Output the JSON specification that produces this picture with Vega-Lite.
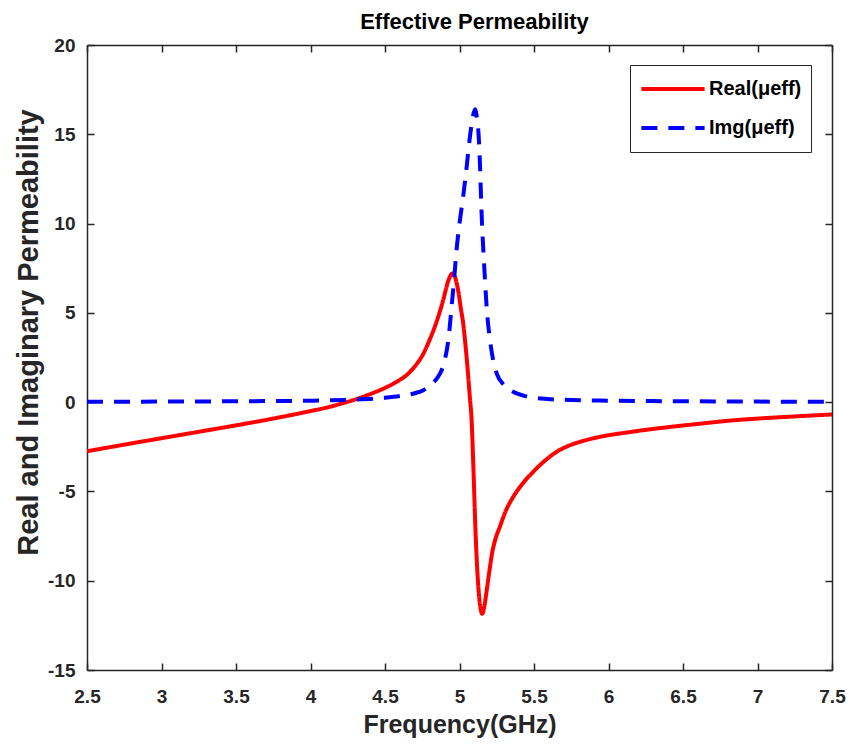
{
  "$schema": "https://vega.github.io/schema/vega-lite/v6.json",
  "autosize": {"type": "none"},
  "width": 745,
  "height": 625,
  "padding": {"left": 87, "top": 45, "right": 20, "bottom": 81},
  "background": "white",
  "title": {"text": "Effective Permeability", "fontSize": 22, "font": "Liberation Sans", "fontWeight": "bold", "color": "#000000", "anchor": "middle", "offset": 2, "dx": 15},
  "config": {
    "view": {"stroke": null},
    "axis": {
      "grid": false,
      "domainColor": "#262626",
      "domainWidth": 1.5,
      "tickColor": "#262626",
      "tickWidth": 1.5,
      "tickSize": -7,
      "labelFont": "Liberation Sans",
      "labelFontWeight": "bold",
      "labelFontSize": 19,
      "labelColor": "#262626",
      "titleFont": "Liberation Sans",
      "titleFontWeight": "bold",
      "titleColor": "#262626"
    }
  },
  "data": {"values": [
    {"f": 2.5, "v": -2.75, "s": "Real(μeff)"},
    {"f": 2.75, "v": -2.38, "s": "Real(μeff)"},
    {"f": 3.0, "v": -2.02, "s": "Real(μeff)"},
    {"f": 3.25, "v": -1.66, "s": "Real(μeff)"},
    {"f": 3.5, "v": -1.3, "s": "Real(μeff)"},
    {"f": 3.75, "v": -0.92, "s": "Real(μeff)"},
    {"f": 4.0, "v": -0.5, "s": "Real(μeff)"},
    {"f": 4.1, "v": -0.32, "s": "Real(μeff)"},
    {"f": 4.2, "v": -0.1, "s": "Real(μeff)"},
    {"f": 4.3, "v": 0.15, "s": "Real(μeff)"},
    {"f": 4.4, "v": 0.45, "s": "Real(μeff)"},
    {"f": 4.5, "v": 0.8, "s": "Real(μeff)"},
    {"f": 4.6, "v": 1.25, "s": "Real(μeff)"},
    {"f": 4.65, "v": 1.55, "s": "Real(μeff)"},
    {"f": 4.7, "v": 2.0, "s": "Real(μeff)"},
    {"f": 4.75, "v": 2.6, "s": "Real(μeff)"},
    {"f": 4.8, "v": 3.5, "s": "Real(μeff)"},
    {"f": 4.85, "v": 4.6, "s": "Real(μeff)"},
    {"f": 4.89, "v": 5.7, "s": "Real(μeff)"},
    {"f": 4.925, "v": 6.8, "s": "Real(μeff)"},
    {"f": 4.952, "v": 7.2, "s": "Real(μeff)"},
    {"f": 4.97, "v": 7.0, "s": "Real(μeff)"},
    {"f": 4.99, "v": 6.3, "s": "Real(μeff)"},
    {"f": 5.01, "v": 5.2, "s": "Real(μeff)"},
    {"f": 5.025, "v": 4.4, "s": "Real(μeff)"},
    {"f": 5.04, "v": 3.2, "s": "Real(μeff)"},
    {"f": 5.059, "v": 1.4, "s": "Real(μeff)"},
    {"f": 5.07, "v": 0.2, "s": "Real(μeff)"},
    {"f": 5.08, "v": -0.8, "s": "Real(μeff)"},
    {"f": 5.093, "v": -3.6, "s": "Real(μeff)"},
    {"f": 5.108, "v": -7.35, "s": "Real(μeff)"},
    {"f": 5.126, "v": -10.3, "s": "Real(μeff)"},
    {"f": 5.14, "v": -11.5, "s": "Real(μeff)"},
    {"f": 5.153, "v": -11.85, "s": "Real(μeff)"},
    {"f": 5.165, "v": -11.5, "s": "Real(μeff)"},
    {"f": 5.18, "v": -10.7, "s": "Real(μeff)"},
    {"f": 5.19, "v": -10.1, "s": "Real(μeff)"},
    {"f": 5.205, "v": -9.2, "s": "Real(μeff)"},
    {"f": 5.22, "v": -8.4, "s": "Real(μeff)"},
    {"f": 5.24, "v": -7.7, "s": "Real(μeff)"},
    {"f": 5.272, "v": -6.95, "s": "Real(μeff)"},
    {"f": 5.31, "v": -6.1, "s": "Real(μeff)"},
    {"f": 5.361, "v": -5.3, "s": "Real(μeff)"},
    {"f": 5.42, "v": -4.6, "s": "Real(μeff)"},
    {"f": 5.495, "v": -3.9, "s": "Real(μeff)"},
    {"f": 5.57, "v": -3.3, "s": "Real(μeff)"},
    {"f": 5.652, "v": -2.78, "s": "Real(μeff)"},
    {"f": 5.73, "v": -2.45, "s": "Real(μeff)"},
    {"f": 5.81, "v": -2.22, "s": "Real(μeff)"},
    {"f": 5.95, "v": -1.93, "s": "Real(μeff)"},
    {"f": 6.14, "v": -1.68, "s": "Real(μeff)"},
    {"f": 6.4, "v": -1.4, "s": "Real(μeff)"},
    {"f": 6.6, "v": -1.22, "s": "Real(μeff)"},
    {"f": 6.82, "v": -1.03, "s": "Real(μeff)"},
    {"f": 7.0, "v": -0.92, "s": "Real(μeff)"},
    {"f": 7.25, "v": -0.8, "s": "Real(μeff)"},
    {"f": 7.5, "v": -0.69, "s": "Real(μeff)"},
    {"f": 2.5, "v": 0.02, "s": "Img(μeff)"},
    {"f": 3.0, "v": 0.03, "s": "Img(μeff)"},
    {"f": 3.5, "v": 0.05, "s": "Img(μeff)"},
    {"f": 4.0, "v": 0.08, "s": "Img(μeff)"},
    {"f": 4.25, "v": 0.13, "s": "Img(μeff)"},
    {"f": 4.5, "v": 0.24, "s": "Img(μeff)"},
    {"f": 4.6, "v": 0.34, "s": "Img(μeff)"},
    {"f": 4.7, "v": 0.5, "s": "Img(μeff)"},
    {"f": 4.757, "v": 0.67, "s": "Img(μeff)"},
    {"f": 4.8, "v": 0.92, "s": "Img(μeff)"},
    {"f": 4.85, "v": 1.35, "s": "Img(μeff)"},
    {"f": 4.88, "v": 1.79, "s": "Img(μeff)"},
    {"f": 4.905, "v": 2.5, "s": "Img(μeff)"},
    {"f": 4.925, "v": 3.47, "s": "Img(μeff)"},
    {"f": 4.947, "v": 5.34, "s": "Img(μeff)"},
    {"f": 4.965, "v": 7.0, "s": "Img(μeff)"},
    {"f": 4.98, "v": 8.5, "s": "Img(μeff)"},
    {"f": 5.0, "v": 10.0, "s": "Img(μeff)"},
    {"f": 5.026, "v": 11.6, "s": "Img(μeff)"},
    {"f": 5.048, "v": 13.17, "s": "Img(μeff)"},
    {"f": 5.07, "v": 14.86, "s": "Img(μeff)"},
    {"f": 5.09, "v": 16.0, "s": "Img(μeff)"},
    {"f": 5.104, "v": 16.4, "s": "Img(μeff)"},
    {"f": 5.117, "v": 15.9, "s": "Img(μeff)"},
    {"f": 5.129, "v": 14.86, "s": "Img(μeff)"},
    {"f": 5.138, "v": 13.17, "s": "Img(μeff)"},
    {"f": 5.144, "v": 11.6, "s": "Img(μeff)"},
    {"f": 5.151, "v": 10.0, "s": "Img(μeff)"},
    {"f": 5.16, "v": 8.5, "s": "Img(μeff)"},
    {"f": 5.17, "v": 7.0, "s": "Img(μeff)"},
    {"f": 5.182, "v": 5.34, "s": "Img(μeff)"},
    {"f": 5.205, "v": 3.47, "s": "Img(μeff)"},
    {"f": 5.225, "v": 2.4, "s": "Img(μeff)"},
    {"f": 5.25, "v": 1.6, "s": "Img(μeff)"},
    {"f": 5.3, "v": 0.95, "s": "Img(μeff)"},
    {"f": 5.36, "v": 0.58, "s": "Img(μeff)"},
    {"f": 5.45, "v": 0.32, "s": "Img(μeff)"},
    {"f": 5.55, "v": 0.2, "s": "Img(μeff)"},
    {"f": 5.75, "v": 0.12, "s": "Img(μeff)"},
    {"f": 6.0, "v": 0.08, "s": "Img(μeff)"},
    {"f": 6.5, "v": 0.05, "s": "Img(μeff)"},
    {"f": 7.0, "v": 0.03, "s": "Img(μeff)"},
    {"f": 7.5, "v": 0.02, "s": "Img(μeff)"}
  ]},
  "layer": [
    {
      "mark": {"type": "line", "strokeWidth": 4, "interpolate": "monotone", "clip": true},
      "encoding": {
        "x": {"field": "f", "type": "quantitative", "scale": {"domain": [2.5, 7.5], "nice": false, "zero": false},
          "axis": {"orient": "bottom", "title": "Frequency(GHz)", "titleFontSize": 25, "titlePadding": 6, "labelPadding": 24,
            "values": [2.5, 3, 3.5, 4, 4.5, 5, 5.5, 6, 6.5, 7, 7.5], "labelExpr": "toString(datum.value)", "labelFlush": false}},
        "y": {"field": "v", "type": "quantitative", "scale": {"domain": [-15, 20], "nice": false, "zero": false},
          "axis": {"orient": "left", "title": "Real and Imaginary Permeability", "titleFontSize": 29, "titleX": -59, "titleY": 287,
            "titleAlign": "center", "titleBaseline": "middle", "titleAngle": 270, "labelPadding": 19,
            "values": [-15, -10, -5, 0, 5, 10, 15, 20], "labelExpr": "toString(datum.value)", "labelFlush": false}},
        "color": {"field": "s", "type": "nominal", "sort": ["Real(μeff)", "Img(μeff)"],
          "scale": {"domain": ["Real(μeff)", "Img(μeff)"], "range": ["#FF0000", "#0000FF"]},
          "legend": {"title": null, "orient": "none", "legendX": 543, "legendY": 20, "symbolType": "stroke", "symbolStrokeWidth": 4,
            "symbolSize": 4000, "clipHeight": 30, "rowPadding": 9, "labelFont": "Liberation Sans", "labelFontWeight": "bold", "labelFontSize": 20,
            "labelColor": "#000000", "strokeColor": "#262626", "fillColor": "white", "padding": 9, "labelOffset": 2}},
        "strokeDash": {"field": "s", "type": "nominal", "sort": ["Real(μeff)", "Img(μeff)"],
          "scale": {"domain": ["Real(μeff)", "Img(μeff)"], "range": [[1, 0], [16, 11]]}, "legend": null}
      }
    },
    {
      "mark": {"type": "line", "strokeOpacity": 0},
      "encoding": {
        "x": {"field": "f", "type": "quantitative", "axis": {"orient": "top", "title": null, "labels": false, "values": [2.5, 3, 3.5, 4, 4.5, 5, 5.5, 6, 6.5, 7, 7.5]}},
        "y": {"field": "v", "type": "quantitative", "axis": {"orient": "right", "title": null, "labels": false, "values": [-15, -10, -5, 0, 5, 10, 15, 20]}},
        "detail": {"field": "s"}
      }
    }
  ],
  "resolve": {"axis": {"x": "independent", "y": "independent"}}
}
